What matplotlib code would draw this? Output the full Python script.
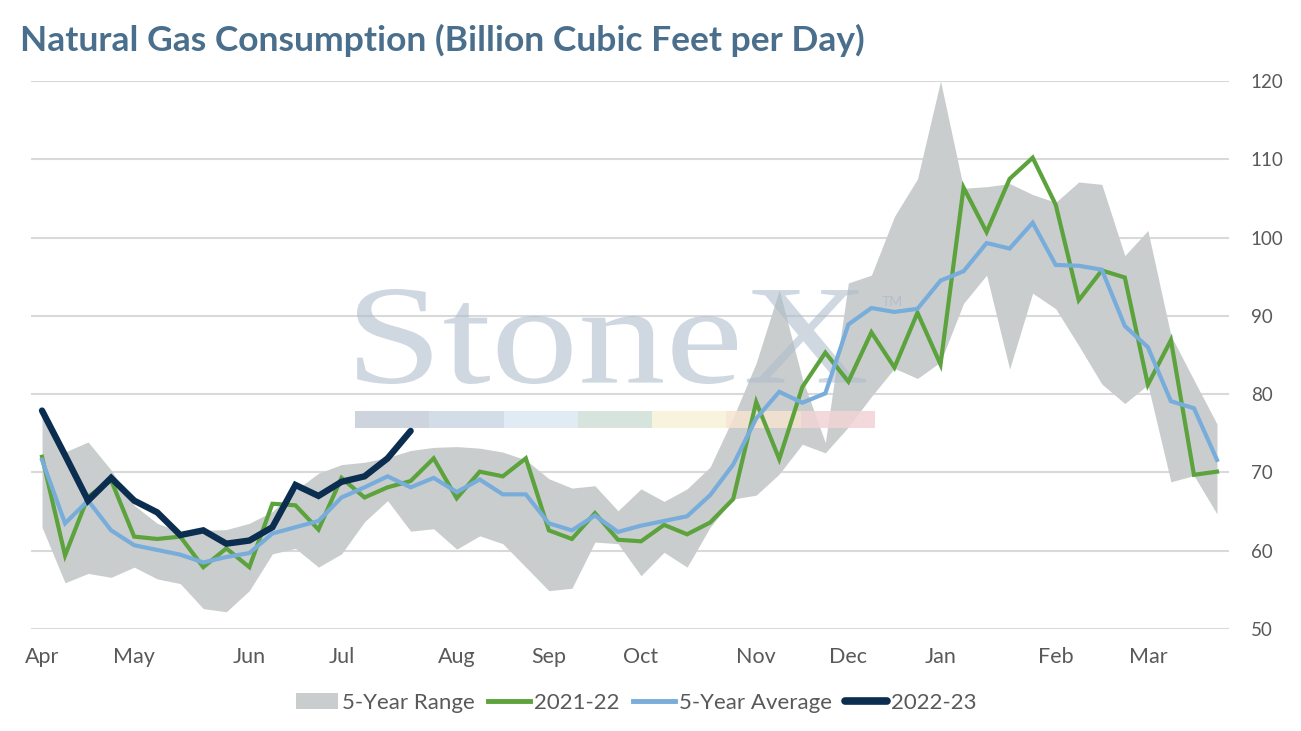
import numpy as np
import matplotlib
matplotlib.use("Agg")
import matplotlib.pyplot as plt
from matplotlib.patches import Patch, Rectangle, PathPatch
from matplotlib.lines import Line2D
from matplotlib.textpath import TextPath
from matplotlib.font_manager import FontProperties
from matplotlib.transforms import Affine2D, IdentityTransform

# ---------------- data ----------------
month_labels = ["Apr", "May", "Jun", "Jul", "Aug", "Sep", "Oct", "Nov", "Dec", "Jan", "Feb", "Mar"]
month_week_index = [0, 4, 9, 13, 18, 22, 26, 31, 35, 39, 44, 48]

range_upper = [77.0, 72.6, 73.9, 70.3, 65.8, 63.5, 62.4, 62.6, 62.7, 63.5,
               65.0, 67.7, 69.9, 71.0, 71.3, 71.9, 72.8, 73.2, 73.3, 73.1,
               72.6, 71.6, 69.2, 68.0, 68.3, 65.1, 67.9, 66.3, 67.9, 70.7,
               77.0, 84.0, 93.3, 82.0, 73.8, 94.2, 95.2, 102.7, 107.5, 120.0,
               106.3, 106.5, 106.9, 105.5, 104.5, 107.1, 106.8, 97.7, 100.9, 87.5,
               81.8, 76.2]
range_lower = [63.0, 55.9, 57.1, 56.6, 57.9, 56.4, 55.8, 52.6, 52.2, 54.9,
               59.6, 60.3, 57.9, 59.6, 63.7, 66.4, 62.5, 62.8, 60.2, 61.9,
               60.9, 57.9, 54.9, 55.2, 61.1, 60.9, 56.8, 59.8, 57.9, 63.0,
               66.6, 67.1, 69.8, 73.6, 72.5, 75.8, 79.7, 83.3, 82.0, 84.1,
               91.6, 95.2, 83.2, 92.9, 90.9, 86.2, 81.3, 78.8, 81.2, 68.8,
               69.6, 64.7]
series_2021_22 = [72.0, 59.4, 66.9, 69.0, 61.8, 61.5, 61.8, 57.9, 60.3, 57.9,
                  66.0, 65.8, 62.7, 69.3, 66.8, 68.1, 68.9, 71.8, 66.7, 70.1,
                  69.5, 71.8, 62.6, 61.5, 64.8, 61.4, 61.2, 63.3, 62.1, 63.6,
                  66.6, 79.0, 71.7, 80.9, 85.3, 81.6, 87.9, 83.4, 90.4, 83.8,
                  106.4, 100.7, 107.5, 110.2, 104.2, 92.0, 95.8, 94.9, 81.2, 86.9,
                  69.7, 70.1]
five_year_avg = [71.6, 63.5, 66.4, 62.6, 60.7, 60.1, 59.5, 58.5, 59.2, 59.7,
                 62.2, 63.0, 63.8, 66.8, 68.1, 69.5, 68.1, 69.3, 67.5, 69.1,
                 67.2, 67.2, 63.5, 62.6, 64.5, 62.4, 63.2, 63.8, 64.4, 67.1,
                 71.0, 76.9, 80.3, 78.9, 80.1, 88.9, 91.0, 90.5, 90.9, 94.5,
                 95.7, 99.3, 98.6, 101.9, 96.5, 96.4, 95.9, 88.7, 86.0, 79.1,
                 78.2, 71.6]
series_2022_23 = [77.9, 72.2, 66.4, 69.3, 66.4, 64.9, 62.0, 62.6, 60.9, 61.3,
                  63.0, 68.4, 67.0, 68.8, 69.5, 71.8, 75.3]

y_ticks = [50, 60, 70, 80, 90, 100, 110, 120]

# ---------------- style ----------------
FONT = ["Lato", "DejaVu Sans"]
plt.rcParams["font.family"] = FONT
C_RANGE = "#cacdce"
C_2122 = "#5ca33d"
C_AVG = "#78addb"
C_2223 = "#0b2e50"
C_TEXT = "#595959"
C_TITLE = "#4a6f8c"

W, H = 1301, 731
fig = plt.figure(figsize=(W / 100, H / 100), dpi=100)
ax = fig.add_axes([30.5 / W, 1 - 629 / H, 1198 / W, 548 / H])

weeks = np.arange(len(range_upper))
ax.fill_between(weeks, range_lower, range_upper, color=C_RANGE, linewidth=0, zorder=1)

# watermark (StoneX logo look-alike), placed in pixel space
tp = TextPath((0, 0), "StoneX", size=100,
              prop=FontProperties(family=["Liberation Serif", "DejaVu Serif"]))
bb = tp.get_extents()
left_px, right_px, top_px, base_px = 357, 866, 289, 384
sx = (right_px - left_px) / bb.width
sy = (base_px - top_px) / bb.height
tr = (Affine2D().translate(-bb.x0, -bb.y0).scale(sx, sy)
      .translate(left_px, H - base_px))
wm = PathPatch(tr.transform_path(tp), facecolor="#adbccc", edgecolor="none",
               alpha=0.58, transform=IdentityTransform(), zorder=1.5)
ax.add_artist(wm)
fig.text(882 / W, 1 - 306 / H, "TM", fontsize=10, color="#a9b8c8", alpha=0.7,
         ha="left", va="baseline", zorder=1.5)

bar_cols = ["#c5cdd8", "#cbd7e4", "#dbe8f3", "#d0e0d7", "#f7f1d6", "#f5e3cf", "#f1d3d5"]
x0 = (355 - 30.5) / 1198
seg = (875 - 355) / 1198 / len(bar_cols)
for k, c in enumerate(bar_cols):
    ax.add_patch(Rectangle((x0 + k * seg, (629 - 428) / 548), seg, 17 / 548,
                           transform=ax.transAxes, facecolor=c, edgecolor="none",
                           alpha=0.85, zorder=1.5))

ax.plot(weeks, series_2021_22, color=C_2122, lw=3.0, zorder=3, solid_joinstyle="miter")
ax.plot(weeks, five_year_avg, color=C_AVG, lw=3.0, zorder=4, solid_joinstyle="miter")
ax.plot(np.arange(len(series_2022_23)), series_2022_23, color=C_2223, lw=4.6, zorder=5,
        solid_capstyle="round", solid_joinstyle="miter")

ax.set_xlim(-0.5, 51.5)
ax.set_ylim(50, 120)
ax.set_yticks(y_ticks)
ax.yaxis.tick_right()
ax.set_xticks(month_week_index)
ax.set_xticklabels(month_labels)
ax.grid(axis="y", color="#d9d9d9", lw=1.5, zorder=0)
ax.set_axisbelow(True)
for s in ax.spines.values():
    s.set_visible(False)
ax.tick_params(axis="both", length=0, colors=C_TEXT)
ax.tick_params(axis="x", pad=13, labelsize=15.5)
ax.tick_params(axis="y", pad=16, labelsize=13.5)

fig.text(20 / W, 1 - 40 / H, "Natural Gas Consumption (Billion Cubic Feet per Day)",
         fontsize=25.5, fontweight="bold", color=C_TITLE, ha="left", va="center")

handles = [Patch(facecolor=C_RANGE, edgecolor="none"),
           Line2D([], [], color=C_2122, lw=3.5),
           Line2D([], [], color=C_AVG, lw=3.5),
           Line2D([], [], color=C_2223, lw=5.5, solid_capstyle="round")]
labels = ["5-Year Range", "2021-22", "5-Year Average", "2022-23"]
leg = fig.legend(handles, labels, loc="center", bbox_to_anchor=(636 / W, 1 - 703 / H),
                 ncol=4, frameon=False, fontsize=16.0, handlelength=1.9,
                 handletextpad=0.17, columnspacing=0.6, handleheight=0.72)
for t in leg.get_texts():
    t.set_color(C_TEXT)

fig.savefig("out.png", dpi=100)
